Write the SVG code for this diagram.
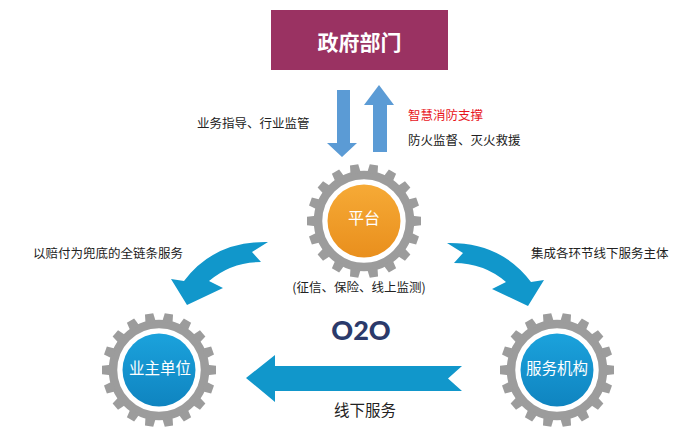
<svg xmlns="http://www.w3.org/2000/svg" xmlns:xlink="http://www.w3.org/1999/xlink" width="700" height="436" viewBox="0 0 700 436">
<style>
.t{font-family:"Noto Sans CJK SC","Liberation Sans",sans-serif;fill:#222;font-size:12.5px}
.w{font-family:"Noto Sans CJK SC","Liberation Sans",sans-serif;fill:#fff;text-anchor:middle}
.blue{fill:#1197cb}
.lb{fill:#5b9bd5}
</style>
<defs>
<linearGradient id="og" x1="0" y1="0" x2="0" y2="1">
<stop offset="0" stop-color="#f6aa36"/><stop offset="1" stop-color="#e98f1d"/>
</linearGradient>
<linearGradient id="bg" x1="0" y1="0" x2="0" y2="1">
<stop offset="0" stop-color="#1ba2dc"/><stop offset="1" stop-color="#0f84c0"/>
</linearGradient>
<polygon id="tooth" points="-5.2,-48 5.2,-48 4.2,-57 -4.2,-57" fill="#9c9c9c"/>
<g id="gear">
<circle r="46" fill="none" stroke="#9c9c9c" stroke-width="8.5"/>
<use xlink:href="#tooth" transform="rotate(10)"/>
<use xlink:href="#tooth" transform="rotate(30)"/>
<use xlink:href="#tooth" transform="rotate(50)"/>
<use xlink:href="#tooth" transform="rotate(70)"/>
<use xlink:href="#tooth" transform="rotate(90)"/>
<use xlink:href="#tooth" transform="rotate(110)"/>
<use xlink:href="#tooth" transform="rotate(130)"/>
<use xlink:href="#tooth" transform="rotate(150)"/>
<use xlink:href="#tooth" transform="rotate(170)"/>
<use xlink:href="#tooth" transform="rotate(190)"/>
<use xlink:href="#tooth" transform="rotate(210)"/>
<use xlink:href="#tooth" transform="rotate(230)"/>
<use xlink:href="#tooth" transform="rotate(250)"/>
<use xlink:href="#tooth" transform="rotate(270)"/>
<use xlink:href="#tooth" transform="rotate(290)"/>
<use xlink:href="#tooth" transform="rotate(310)"/>
<use xlink:href="#tooth" transform="rotate(330)"/>
<use xlink:href="#tooth" transform="rotate(350)"/>
</g>
<path id="curve" d="M268,242 Q214,241 184,281 L171,279 L187,305 L223,288 L209,281 Q231,262 261,262 L252,252 Z"/>
</defs>
<rect width="700" height="436" fill="#fff"/>

<g id="gov">
<rect x="271" y="10" width="177" height="60" fill="#9a3262"/>
<text class="w" x="359.5" y="49.5" font-size="21" font-weight="bold">政府部门</text>
</g>

<g id="platform">
<use xlink:href="#gear" transform="translate(364,221)"/>
<circle cx="364" cy="221" r="36.5" fill="url(#og)"/>
<text class="w" x="364" y="224" font-size="16">平台</text>
</g>

<g id="owner">
<use xlink:href="#gear" transform="translate(159,370)"/>
<circle cx="159" cy="370" r="36.5" fill="url(#bg)"/>
<text class="w" x="160" y="373.5" font-size="15.5">业主单位</text>
</g>

<g id="service">
<use xlink:href="#gear" transform="translate(557,370)"/>
<circle cx="557" cy="370" r="36.5" fill="url(#bg)"/>
<text class="w" x="557" y="373.5" font-size="15.5">服务机构</text>
</g>

<g id="connectors">
<polygon class="lb" points="337,90 350,90 350,143 357,143 342,157 327,143 337,143"/>
<polygon class="lb" points="379,85 394,105 387,105 387,152 373,152 373,105 364,105"/>
<use xlink:href="#curve" class="blue"/>
<use xlink:href="#curve" class="blue" transform="translate(715,1) scale(-1,1)"/>
<polygon class="blue" points="246,378 275,355 275,366 462,366 448,378.5 462,391 275,391 275,402"/>
</g>

<g id="labels">
<text class="t" x="197" y="127.5">业务指导、行业监管</text>
<text class="t" x="408" y="119.5" style="fill:#e8141b">智慧消防支撑</text>
<text class="t" x="408" y="144.5">防火监督、灭火救援</text>
<text class="t" x="359" y="291.5" text-anchor="middle">(征信、保险、线上监测)</text>
<text class="t" x="33" y="257.5">以赔付为兜底的全链条服务</text>
<text class="t" x="531" y="257.5">集成各环节线下服务主体</text>
<text x="361" y="340" text-anchor="middle" font-family="Lato,'Open Sans',sans-serif" font-weight="900" font-size="27" fill="#2b3a6b">O2O</text>
<text class="t" x="365" y="415.5" text-anchor="middle" style="font-size:15.5px">线下服务</text>
</g>
</svg>
